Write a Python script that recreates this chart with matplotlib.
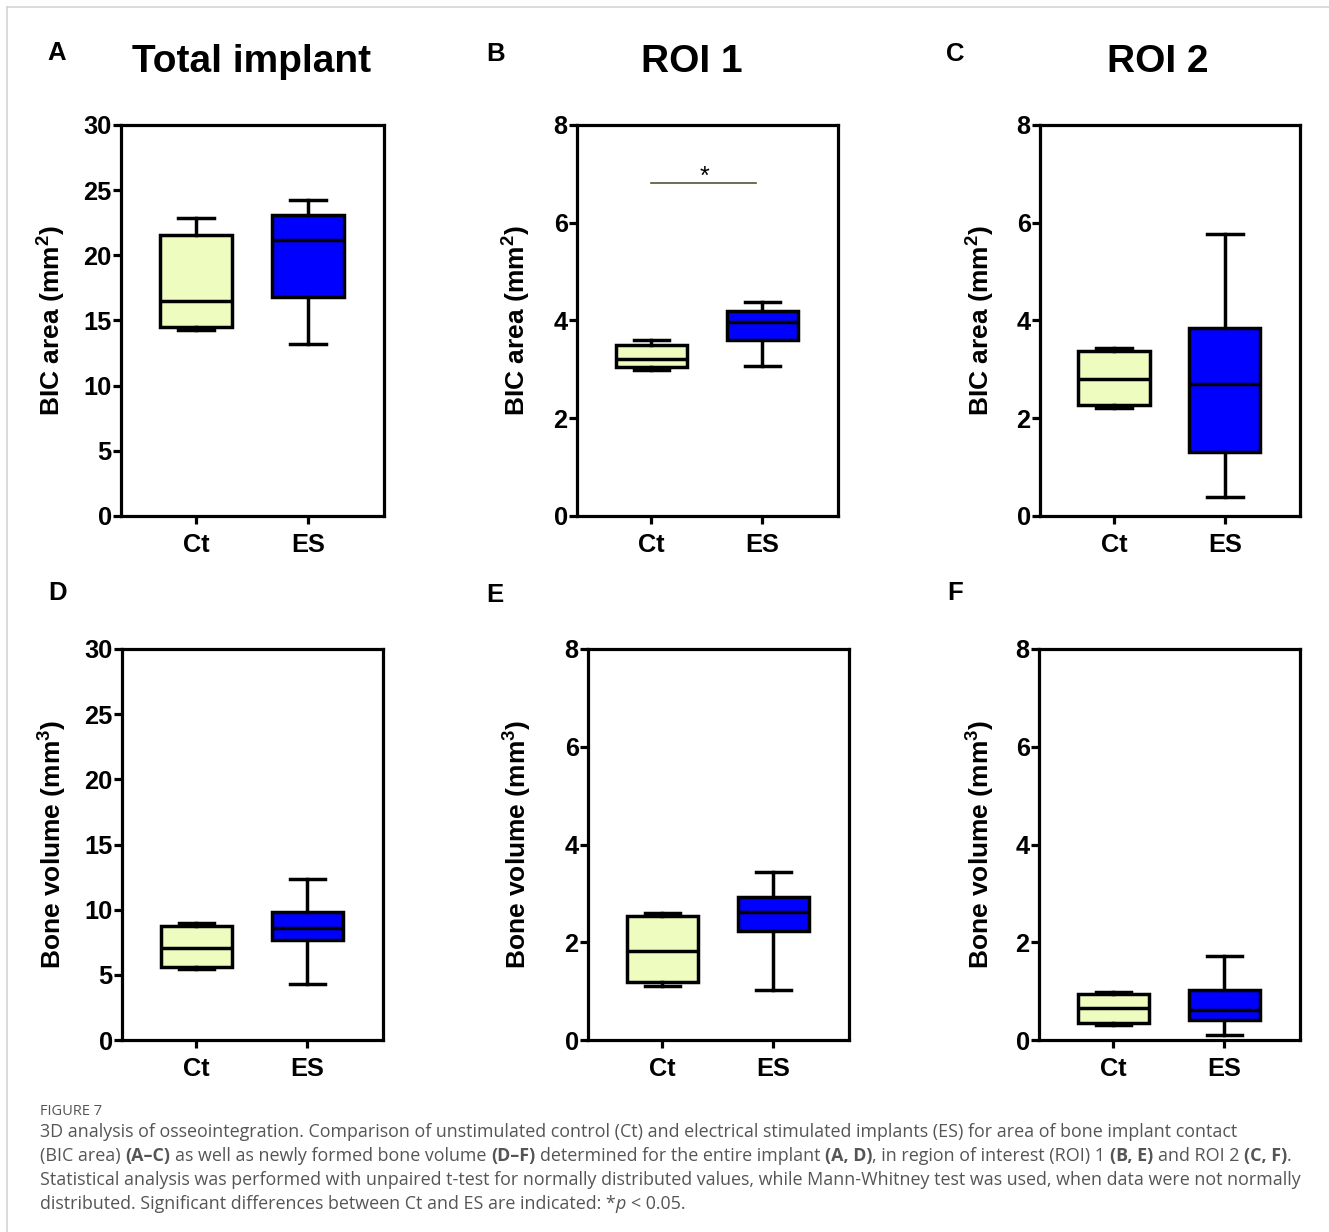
import numpy as np
import matplotlib
matplotlib.use('Agg')
import matplotlib.pyplot as plt
from matplotlib.lines import Line2D

plt.rcParams['font.family'] = ['Liberation Sans', 'DejaVu Sans']
plt.rcParams['mathtext.fontset'] = 'custom'
plt.rcParams['mathtext.rm'] = 'Liberation Sans:bold'
plt.rcParams['mathtext.bf'] = 'Liberation Sans:bold'

# box stats: min, Q1, median, Q3, max
groups = ['Ct', 'ES']
bic_total_ct = [14.26, 14.47, 16.5, 21.56, 22.9]
bic_total_es = [13.16, 16.77, 21.17, 23.1, 24.25]
bic_roi1_ct = [2.98, 3.05, 3.22, 3.49, 3.60]
bic_roi1_es = [3.07, 3.60, 3.97, 4.20, 4.37]
bic_roi2_ct = [2.20, 2.27, 2.81, 3.38, 3.44]
bic_roi2_es = [0.39, 1.31, 2.70, 3.84, 5.76]
vol_total_ct = [5.43, 5.63, 7.04, 8.75, 9.01]
vol_total_es = [4.30, 7.68, 8.57, 9.81, 12.37]
vol_roi1_ct = [1.11, 1.19, 1.83, 2.53, 2.59]
vol_roi1_es = [1.02, 2.22, 2.61, 2.92, 3.43]
vol_roi2_ct = [0.31, 0.35, 0.65, 0.94, 0.99]
vol_roi2_es = [0.10, 0.40, 0.61, 1.02, 1.72]

titles = ['Total implant', 'ROI 1', 'ROI 2']
letters = ['A', 'B', 'C', 'D', 'E', 'F']
sig_roi1 = 6.81  # height of significance bar in B

W, H = 1329, 1232
fig = plt.figure(figsize=(W / 100, H / 100), dpi=100)

col_ct = '#effcc0'
col_es = '#0000ff'
lw = 2.3     # spines / ticks
blw = 2.5    # box lines

# axes boxes in pixels: left, right, top, bottom
boxes = [(121, 384, 125, 516), (577, 838, 125, 516), (1040, 1300, 125, 516),
         (122, 383, 649, 1040), (588, 849, 649, 1040), (1039, 1300, 649, 1040)]
ylab_x = [-0.205, -0.172, -0.169, -0.207, -0.211, -0.165]
data = [(bic_total_ct, bic_total_es), (bic_roi1_ct, bic_roi1_es), (bic_roi2_ct, bic_roi2_es),
        (vol_total_ct, vol_total_es), (vol_roi1_ct, vol_roi1_es), (vol_roi2_ct, vol_roi2_es)]

axes = []
for i, (l, r, t, b) in enumerate(boxes):
    ax = fig.add_axes([l / W, 1 - b / H, (r - l) / W, (b - t) / H])
    axes.append(ax)
    stats = []
    for name, v in zip(groups, data[i]):
        stats.append(dict(label=name, whislo=v[0], q1=v[1], med=v[2], q3=v[3], whishi=v[4], fliers=[]))
    bp = ax.bxp(stats, positions=[0, 1], widths=0.645, patch_artist=True, showfliers=False,
                boxprops=dict(linewidth=blw, edgecolor='black'),
                medianprops=dict(color='black', linewidth=blw),
                whiskerprops=dict(color='black', linewidth=blw),
                capprops=dict(color='black', linewidth=blw))
    for patch, c in zip(bp['boxes'], [col_ct, col_es]):
        patch.set_facecolor(c)
    ax.set_xlim(-0.67, 1.68)
    if i % 3 == 0:
        ax.set_ylim(0, 30)
        ax.set_yticks(np.arange(0, 31, 5))
    else:
        ax.set_ylim(0, 8)
        ax.set_yticks(np.arange(0, 9, 2))
    ax.set_xticks([0, 1])
    ax.set_xticklabels(groups)
    for s in ax.spines.values():
        s.set_linewidth(lw)
    ax.tick_params(axis='both', direction='out', length=5.5, width=lw, labelsize=18.3)
    ax.tick_params(axis='y', pad=1.2)
    ax.tick_params(axis='x', pad=6.5)
    for lab in ax.get_xticklabels() + ax.get_yticklabels():
        lab.set_fontweight('bold')
    if i < 3:
        ax.set_ylabel(r'BIC area (mm$^{\mathbf{2}}$)', fontsize=19, fontweight='bold')
    else:
        ax.set_ylabel(r'Bone volume (mm$^{\mathbf{3}}$)', fontsize=19, fontweight='bold')
    ax.yaxis.set_label_coords(ylab_x[i], 0.5)

# significance in ROI 1
axB = axes[1]
axB.plot([0, 0.94], [sig_roi1, sig_roi1], color='#55553a', linewidth=1.2)
axB.text(0.48, 6.8, '*', ha='center', va='baseline', fontsize=18)

# titles and panel letters
for x, s in zip([251.5, 692, 1158], titles):
    fig.text(x / W, 1 - 72 / H, s, ha='center', va='baseline', fontsize=28, fontweight='bold')
for (x, y), s in zip([(47, 60), (486, 61), (946, 61), (48, 600), (486, 602), (947, 600)], letters):
    fig.text(x / W, 1 - y / H, s, ha='left', va='baseline', fontsize=18.5, fontweight='bold')

# page border
fig.add_artist(Line2D([7 / W, 1], [1 - 7 / H, 1 - 7 / H], color='#d4d4d4', linewidth=1.2))
fig.add_artist(Line2D([7 / W, 7 / W], [0, 1 - 7 / H], color='#d4d4d4', linewidth=1.2))

# caption
cap_col = '#555555'
cap_font = ['Open Sans', 'DejaVu Sans']
cap_size = 12.9
fig.text(40 / W, 1 - 1115 / H, 'FIGURE 7', fontsize=10.5, color=cap_col, family=cap_font, va='baseline')

rend = fig.canvas.get_renderer()


def width_of(s, w='normal', st='normal'):
    t = fig.text(0, 0, s, fontsize=cap_size, fontweight=w, fontstyle=st, family=cap_font)
    wd = t.get_window_extent(rend).width
    t.remove()
    return wd


space = width_of('a a') - width_of('aa')


def caption_line(y, parts):
    x = 40.0
    for s, w, st in parts:
        lead = len(s) - len(s.lstrip(' '))
        trail = len(s) - len(s.rstrip(' '))
        x += lead * space
        body = s.strip(' ')
        t = fig.text(x / W, 1 - y / H, body, fontsize=cap_size, fontweight=w, fontstyle=st,
                     color=cap_col, family=cap_font, va='baseline', ha='left')
        x += t.get_window_extent(rend).width + trail * space


N, B, I = 'normal', 'bold', 'italic'
caption_line(1137, [('3D analysis of osseointegration. Comparison of unstimulated control (Ct) and electrical '
                     'stimulated implants (ES) for area of bone implant contact', N, N)])
caption_line(1161, [('(BIC area) ', N, N), ('(A\u2013C)', B, N), (' as well as newly formed bone volume ', N, N),
                    ('(D\u2013F)', B, N), (' determined for the entire implant ', N, N), ('(A, D)', B, N),
                    (', in region of interest (ROI) 1 ', N, N), ('(B, E)', B, N), (' and ROI 2 ', N, N),
                    ('(C, F)', B, N), ('.', N, N)])
caption_line(1185, [('Statistical analysis was performed with unpaired t-test for normally distributed values, '
                     'while Mann-Whitney test was used, when data were not normally', N, N)])
caption_line(1209, [('distributed. Significant differences between Ct and ES are indicated: *', N, N),
                    ('p', N, I), (' < 0.05.', N, N)])

fig.savefig('out.png', dpi=100)
